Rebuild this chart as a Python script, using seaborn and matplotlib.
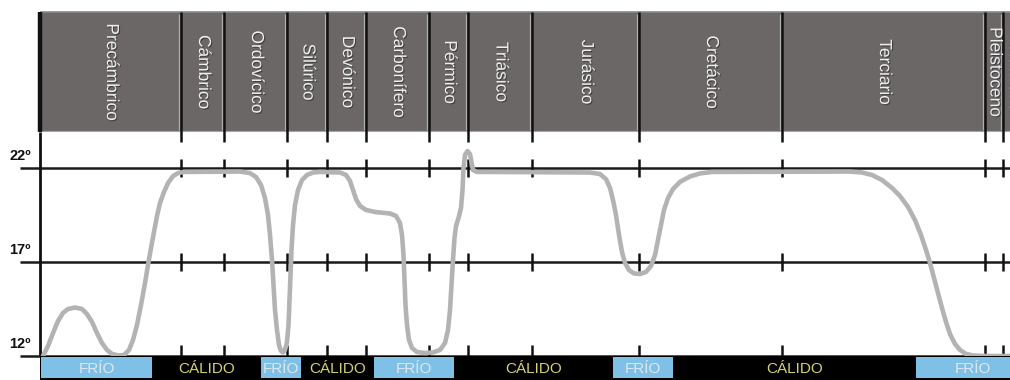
import numpy as np
import pandas as pd
import matplotlib.pyplot as plt
import matplotlib.patheffects as pe
from matplotlib.patches import Rectangle
import seaborn as sns

# Geological periods (header) and their boundaries on the time axis
periods = ['Precámbrico', 'Cámbrico', 'Ordovícico', 'Silúrico', 'Devónico',
           'Carbonífero', 'Pérmico', 'Triásico', 'Jurásico', 'Cretácico',
           'Terciario', 'Pleistoceno', 'Actualidad']
period_edges = [0, 141, 184, 247, 287, 326, 389, 428, 492, 599, 742, 945, 963, 984]

# Climate phases (bottom band)
phases = ['FRÍO', 'CÁLIDO', 'FRÍO', 'CÁLIDO', 'FRÍO',
          'CÁLIDO', 'FRÍO', 'CÁLIDO', 'FRÍO']
phase_edges = [0, 113, 220, 262, 333, 415, 572, 634, 875, 990]

# Temperature levels
temp_levels = [12, 17, 22]
temp_labels = ['12º', '17º', '22º']

# Mean global temperature curve
curve_x = [3, 8, 13, 18, 23, 28, 35, 42, 47, 52, 57, 62, 67, 72, 78, 84, 89,
           93, 97, 101, 105, 108, 111, 114, 117, 120, 124, 128, 133, 138, 144,
           200, 210, 216, 221, 225, 228, 230, 232, 233.5, 235, 237, 239, 241,
           243, 245, 247, 248.5, 249.5, 250.5, 251.5, 253, 255, 258, 262, 267,
           273, 280,
           300, 306, 310, 313, 316, 320, 326, 335, 350, 356, 360, 362, 363.5,
           364.5, 365.5, 367, 369, 372, 377, 385, 393, 400, 405, 408, 410,
           411.5, 413, 414.5, 416, 418.5, 421, 422.5, 423.5, 425, 427.5, 430,
           431.5, 433, 437,
           450, 550, 560, 566, 570, 573, 576, 579, 582, 585, 589, 594, 600,
           606, 611, 615, 618, 621, 624, 628, 633, 640, 650, 660, 672,
           810, 822, 832, 842, 852, 860, 868, 875, 881, 886, 890, 894, 898,
           902, 906, 910, 915, 920, 926, 933, 945, 970]
curve_t = [12.0, 12.53, 13.22, 13.86, 14.29, 14.5, 14.58, 14.5, 14.23, 13.81,
           13.22, 12.69, 12.32, 12.11, 12.03, 12.05, 12.32, 12.85, 13.65,
           14.71, 15.88, 16.84, 17.74, 18.6, 19.45, 20.14, 20.72, 21.2, 21.57,
           21.73, 21.79,
           21.81, 21.73, 21.52, 21.1, 20.4, 19.5, 18.44, 17.11, 15.78, 14.45,
           13.38, 12.59, 12.27, 12.19, 12.32, 12.74, 13.65, 14.98, 16.31,
           17.64, 18.97, 20.03, 20.83, 21.36, 21.63, 21.76, 21.79,
           21.76, 21.63, 21.31, 20.83, 20.35, 19.98, 19.77, 19.66, 19.58,
           19.45, 19.07, 18.44, 17.37, 16.04, 14.71, 13.65, 12.85, 12.43,
           12.21, 12.16, 12.19, 12.32, 12.69, 13.38, 14.45, 15.78, 17.11,
           18.28, 18.91, 19.34, 19.87, 20.83, 22.0, 22.69, 22.9, 22.74, 22.32,
           21.89, 21.79,
           21.79, 21.76, 21.68, 21.41, 20.94, 20.3, 19.5, 18.44, 17.53, 16.95,
           16.57, 16.39, 16.36, 16.47, 16.79, 17.37, 18.17, 18.97, 19.77,
           20.4, 20.88, 21.26, 21.55, 21.71, 21.79,
           21.81, 21.76, 21.63, 21.36, 20.94, 20.51, 19.93, 19.23, 18.44,
           17.64, 16.95, 16.15, 15.35, 14.55, 13.81, 13.17, 12.64, 12.32,
           12.11, 12.03, 12.0, 12.0]

df = pd.DataFrame({'x': curve_x, 'temp': curve_t})

sns.set_theme(style='white')
plt.rcParams['font.family'] = ['Liberation Sans', 'DejaVu Sans']

fig = plt.figure(figsize=(10.1, 3.8), dpi=100)
W, H = 1010, 380
px_per_deg = 18.8
top_temp = 12 + 224 / px_per_deg

ax_hdr = fig.add_axes([0, (H - 132) / H, 1, 122 / H])
ax = fig.add_axes([0, 24 / H, 1, 224 / H])
ax_band = fig.add_axes([0, 0, 1, 24 / H])
for a in (ax_hdr, ax, ax_band):
    a.set_xlim(-40, 970)
    a.axis('off')
ax_hdr.set_ylim(0, 1)
ax_band.set_ylim(0, 1)
ax.set_ylim(12, top_temp)

# Header boxes
for i, name in enumerate(periods):
    x0, x1 = period_edges[i], period_edges[i + 1]
    ax_hdr.add_patch(Rectangle((x0, 0.01), x1 - x0, 0.97, facecolor='#6b6767',
                               edgecolor='none', clip_on=False))
    ax_hdr.vlines(x1 - 2, 0.02, 0.97, color='#b0aeae', lw=0.9, clip_on=False)
    ax_hdr.text((x0 + x1) / 2 + 1, 0.49, name, rotation=270, ha='center',
                va='center', color='#eeeeee', fontsize=12.5,
                path_effects=[pe.withSimplePatchShadow(offset=(0.8, -0.8),
                                                       shadow_rgbFace='k', alpha=0.5)])
ax_hdr.hlines(0.985, 0, 984, color='#8a8888', lw=1.2, clip_on=False)
ax_hdr.hlines(0.005, 0, 984, color='#a8a6a6', lw=0.8, clip_on=False)
ax_hdr.vlines(period_edges[1:], -10 / 122, 0.985, color='#111111', lw=1.8,
              clip_on=False)
ax_hdr.vlines(0, 0, 0.985, color='#111111', lw=3.2, clip_on=False)

# Temperature grid lines with period ticks
ax.hlines(temp_levels, -20, 970, color='#1a1a1a', lw=1.8, clip_on=False)
ax.vlines(0, 12, top_temp, color='#111111', lw=2, clip_on=False)
ticks = period_edges[1:-1]
half = 9 / px_per_deg
for t in temp_levels[1:]:
    ax.vlines(ticks, t - half, t + half, color='#111111', lw=1.8)
ax.vlines(ticks, 12, 12 + 11 / px_per_deg, color='#111111', lw=1.8)
for t, lab in zip(temp_levels, temp_labels):
    ax.text(-20, t + 0.64, lab, ha='center', va='center', fontsize=10.5,
            fontweight='bold', color='#111111')

# Temperature curve
sns.lineplot(data=df, x='x', y='temp', ax=ax, sort=False, estimator=None,
             color='#b3b3b3', lw=3.3, legend=False)
for line in ax.get_lines():
    line.set_clip_on(False)
    line.set_solid_joinstyle('round')
    line.set_solid_capstyle('round')

# Climate band
ax_band.add_patch(Rectangle((0, 0), phase_edges[-1], 1, facecolor='black',
                            edgecolor='none', clip_on=False))
for i, name in enumerate(phases):
    x0, x1 = phase_edges[i], phase_edges[i + 1]
    if name == 'FRÍO':
        ax_band.add_patch(Rectangle((x0 + 1, 0.08), x1 - x0 - 2, 0.86,
                                    facecolor='#7fc0e6', edgecolor='none',
                                    clip_on=False))
        color = '#dce8f0'
    else:
        color = '#d6d36c'
    ax_band.text((x0 + x1) / 2, 0.46, name, ha='center', va='center',
                 fontsize=11, color=color)

fig.savefig('out.png', dpi=100)
